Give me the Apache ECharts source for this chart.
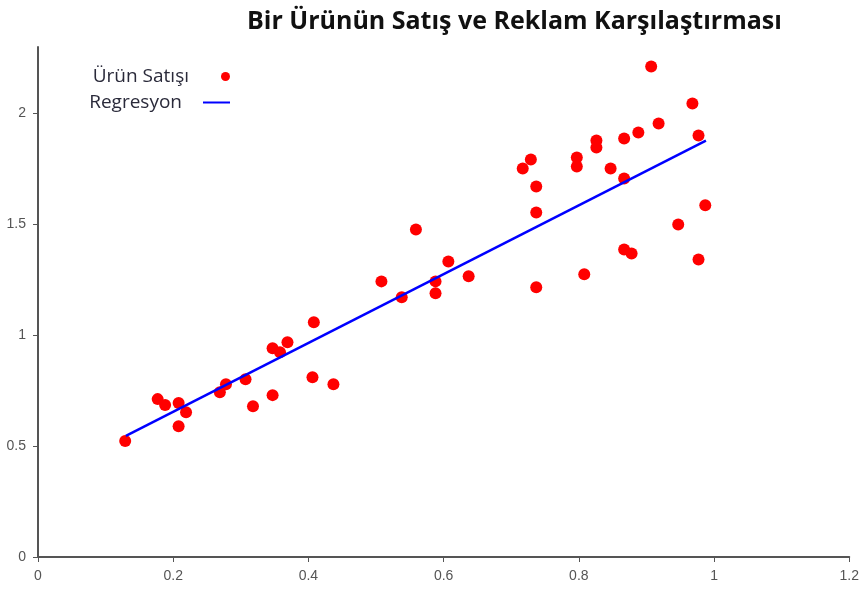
<!DOCTYPE html>
<html>
<head>
<meta charset="utf-8">
<script src="https://cdn.jsdelivr.net/npm/echarts@6/dist/echarts.min.js"></script>
<style>
html, body { margin: 0; padding: 0; background: #fff; }
#chart { width: 862px; height: 593px; }
</style>
</head>
<body>
<div id="chart"></div>
<script>
/* veriler */
var reklamX = [0.129, 0.177, 0.188, 0.208, 0.208, 0.219, 0.269, 0.278, 0.307, 0.318,
    0.347, 0.347, 0.358, 0.369, 0.408, 0.406, 0.437, 0.508, 0.538, 0.559,
    0.588, 0.588, 0.607, 0.637, 0.717, 0.729, 0.737, 0.737, 0.737, 0.797,
    0.797, 0.808, 0.826, 0.826, 0.847, 0.867, 0.867, 0.867, 0.878, 0.888,
    0.907, 0.918, 0.947, 0.968, 0.977, 0.977, 0.987];
var satisY = [0.523, 0.712, 0.685, 0.694, 0.590, 0.653, 0.743, 0.779, 0.802, 0.680,
    0.730, 0.941, 0.923, 0.968, 1.059, 0.811, 0.779, 1.243, 1.171, 1.477,
    1.243, 1.189, 1.333, 1.266, 1.752, 1.793, 1.671, 1.554, 1.216, 1.802,
    1.761, 1.275, 1.878, 1.847, 1.752, 1.707, 1.887, 1.387, 1.369, 1.914,
    2.212, 1.955, 1.500, 2.045, 1.901, 1.342, 1.586];
var regX = [0.13, 0.988];
var regY = [0.546, 1.878];
var yTicks = [0, 0.5, 1, 1.5, 2];

var noktalar = reklamX.map(function (x, i) { return [x, satisY[i]]; });
var cizgi = regX.map(function (x, i) { return [x, regY[i]]; });

var chart = echarts.init(document.getElementById('chart'));
var option = {
    animation: false,
    title: {
        text: 'Bir Ürünün Satış ve Reklam Karşılaştırması',
        left: 242,
        top: 4,
        textStyle: {
            fontFamily: 'Open Sans',
            fontWeight: 'bold',
            fontSize: 25,
            color: '#111'
        }
    },
    legend: [{
        data: ['Ürün Satışı'],
        orient: 'vertical',
        align: 'right',
        right: 632,
        top: 67,
        padding: 0,
        icon: 'circle',
        itemWidth: 27,
        itemHeight: 9,
        textStyle: { fontFamily: 'Open Sans', fontSize: 19, color: '#2a2a3a', padding: [0, 18, 0, 0] }
    }, {
        data: [{ name: 'Regresyon', icon: 'rect' }],
        orient: 'vertical',
        align: 'right',
        right: 632,
        top: 93,
        padding: 0,
        itemWidth: 27,
        itemHeight: 2,
        textStyle: { fontFamily: 'Open Sans', fontSize: 19, color: '#2a2a3a', padding: [0, 16, 0, 0] }
    }],
    grid: { left: 38, right: 12, top: 47, bottom: 36 },
    xAxis: {
        type: 'value',
        min: 0,
        max: 1.2,
        interval: 0.2,
        splitLine: { show: false },
        axisLine: { lineStyle: { color: '#555', width: 2 } },
        axisTick: { length: 5, lineStyle: { color: '#555' } },
        axisLabel: { color: '#555', fontFamily: 'Liberation Sans', fontSize: 14, margin: 12 }
    },
    yAxis: {
        type: 'value',
        min: 0,
        max: 2.3,
        splitLine: { show: false },
        axisLine: { show: true, lineStyle: { color: '#555', width: 2 } },
        axisTick: { show: true, length: 5, customValues: yTicks, lineStyle: { color: '#555' } },
        axisLabel: { color: '#555', fontFamily: 'Liberation Sans', fontSize: 14, margin: 12, customValues: yTicks }
    },
    series: [{
        name: 'Ürün Satışı',
        type: 'scatter',
        symbolSize: 12,
        itemStyle: { color: '#ff0000', opacity: 1 },
        data: noktalar
    }, {
        name: 'Regresyon',
        type: 'line',
        symbol: 'none',
        z: 5,
        lineStyle: { color: '#0000ff', width: 2.5 },
        itemStyle: { color: '#0000ff' },
        data: cizgi
    }]
};
chart.setOption(option);
</script>
</body>
</html>
